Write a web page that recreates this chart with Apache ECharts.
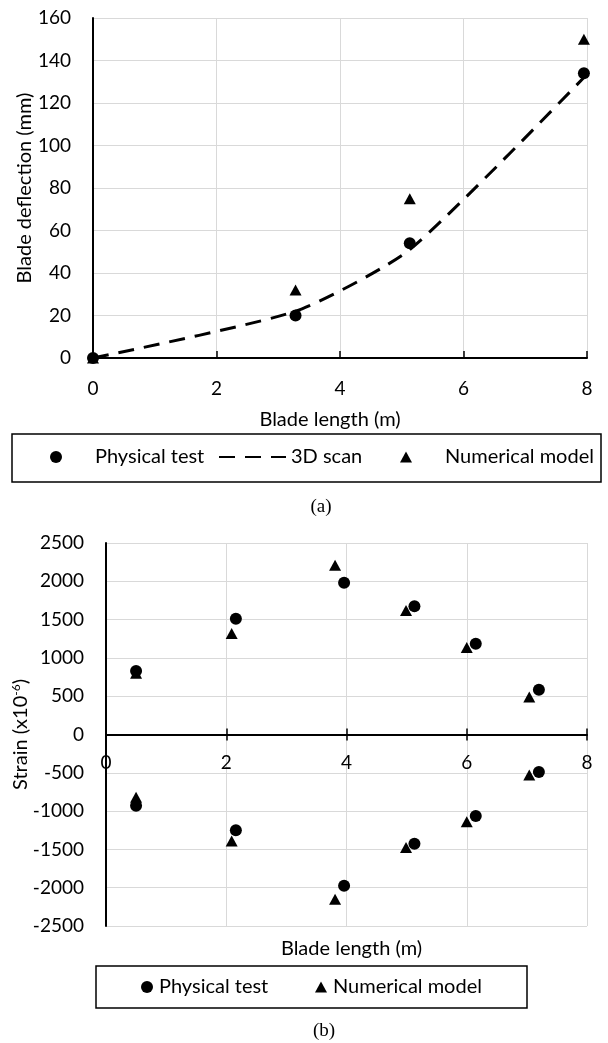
<!DOCTYPE html>
<html>
  <head>
    <meta charset="utf-8" />
    <title>Blade deflection and strain</title>
    <style type="text/css">
      html,
      body {
        width: 100%;
        height: 100%;
        margin: 0px;
        background: #fff;
      }
      #chart {
        width: 608px;
        height: 1043px;
      }
    </style>
    <script type="text/javascript" src="https://cdn.jsdelivr.net/npm/echarts@6/dist/echarts.min.js"></script>
  </head>
  <body>
    <div id="chart"></div>
    <script>
      // (a) deflection along the blade
      const lengthA = [0, 3.28, 5.13, 7.95];
      const physicalA = [0, 20, 54, 134];
      const scanA = [0, 22, 51, 132];
      const numericalA = [0, 32, 75, 150];

      // (b) strain along the blade, tension side and compression side
      const physX = [0.5, 2.16, 3.96, 5.13, 6.15, 7.2];
      const physTension = [830, 1510, 1980, 1675, 1185, 585];
      const physCompression = [-930, -1250, -1975, -1425, -1065, -490];
      const numX = [0.5, 2.09, 3.81, 4.99, 6.0, 7.04];
      const numTension = [800, 1320, 2210, 1620, 1135, 490];
      const numCompression = [-820, -1390, -2150, -1475, -1140, -530];

      const FONT = "Lato";
      const zip = (xs, ys) => xs.map((x, i) => [x, ys[i]]);
      const txt = { color: "#000", fontFamily: FONT, fontSize: 20 };
      const tickTxt = { color: "#000", fontFamily: FONT, fontSize: 19 };
      const grid = { color: "#d9d9d9", width: 1 };
      const plain = (v) => String(v);
      const triIcon = "path://M0,11L6,0L12,11Z";

      // bottom plot: 383px high, zero line in the middle
      const zeroOffset = -191.5;

      // one legend entry, placed by hand (Excel spaces them unevenly)
      function legendItem(name, icon, left, top, width, textPad) {
        return {
          data: [icon ? { name: name, icon: icon } : { name: name, itemStyle: { opacity: 0 } }],
          left: left,
          top: top,
          padding: 0,
          itemWidth: width,
          itemHeight: 12,
          symbolKeepAspect: true,
          selectedMode: false,
          textStyle: Object.assign({ lineHeight: 22, padding: [0, 0, 0, textPad] }, txt)
        };
      }

      const chart = echarts.init(document.getElementById("chart"), null, { renderer: "canvas" });

      const option = {
        animation: false,
        textStyle: { fontFamily: FONT },
        grid: [
          { left: 93, top: 18, width: 494, height: 340, outerBoundsMode: "none", containLabel: false },
          { left: 106, top: 543, width: 481, height: 383, outerBoundsMode: "none", containLabel: false }
        ],
        legend: [
          legendItem("Physical test", "circle", 50, 446, 12, 28),
          legendItem("3D scan", null, 218, 446, 67, 0),
          legendItem("Numerical model", triIcon, 400, 446, 12, 28),
          legendItem("Physical test", "circle", 141, 976, 12, 1),
          legendItem("Numerical model", triIcon, 315, 976, 12, 1)
        ],
        xAxis: [
          {
            gridIndex: 0,
            type: "value",
            min: 0,
            max: 8,
            interval: 2,
            name: "Blade length (m)",
            nameLocation: "middle",
            nameGap: 52,
            nameMoveOverlap: false,
            nameTextStyle: Object.assign({ padding: [0, 20, 0, 0] }, txt),
            axisLine: { onZero: false, lineStyle: { color: "#000", width: 2 } },
            axisTick: { inside: true, length: 7, lineStyle: { color: "#000", width: 1.5 } },
            axisLabel: Object.assign({ margin: 21, formatter: plain }, tickTxt),
            splitLine: { lineStyle: grid }
          },
          {
            gridIndex: 1,
            type: "value",
            position: "bottom",
            offset: zeroOffset,
            min: 0,
            max: 8,
            interval: 2,
            name: "Blade length (m)",
            nameLocation: "middle",
            nameGap: 204,
            nameMoveOverlap: false,
            nameTextStyle: Object.assign({ padding: [0, 0, 0, 10] }, txt),
            axisLine: { onZero: false, lineStyle: { color: "#000", width: 2 } },
            axisTick: { length: 6, lineStyle: { color: "#000", width: 1.5 } },
            axisLabel: Object.assign({ margin: 19, formatter: plain }, tickTxt),
            splitLine: { lineStyle: grid }
          },
          {
            // same axis again, only for the upper half of the cross ticks
            gridIndex: 1,
            type: "value",
            position: "bottom",
            offset: zeroOffset,
            min: 0,
            max: 8,
            interval: 2,
            axisLine: { show: false, onZero: false },
            axisTick: { inside: true, length: 6, lineStyle: { color: "#000", width: 1.5 } },
            axisLabel: { show: false },
            splitLine: { show: false }
          }
        ],
        yAxis: [
          {
            gridIndex: 0,
            type: "value",
            min: 0,
            max: 160,
            interval: 20,
            name: "Blade deflection (mm)",
            nameLocation: "middle",
            nameGap: 58,
            nameMoveOverlap: false,
            nameTextStyle: txt,
            axisLine: { show: true, onZero: false, lineStyle: { color: "#000", width: 2 } },
            axisTick: { show: false },
            axisLabel: Object.assign({ margin: 22, formatter: plain }, tickTxt),
            splitLine: { lineStyle: grid }
          },
          {
            gridIndex: 1,
            type: "value",
            min: -2500,
            max: 2500,
            interval: 500,
            name: "Strain (x10{sup|-6})",
            nameLocation: "middle",
            nameGap: 74,
            nameMoveOverlap: false,
            nameTextStyle: Object.assign(
              {
                rich: {
                  sup: { color: "#000", fontFamily: FONT, fontSize: 12, verticalAlign: "top", lineHeight: 22 }
                }
              },
              txt
            ),
            axisLine: { show: true, onZero: false, lineStyle: { color: "#000", width: 2 } },
            axisTick: { show: false },
            axisLabel: Object.assign({ margin: 22, formatter: plain }, tickTxt),
            splitLine: { lineStyle: grid }
          }
        ],
        series: [
          {
            name: "Physical test",
            type: "scatter",
            xAxisIndex: 0,
            yAxisIndex: 0,
            symbol: "circle",
            symbolSize: 12,
            itemStyle: { color: "#000", opacity: 1 },
            data: zip(lengthA, physicalA),
            z: 3
          },
          {
            name: "3D scan",
            type: "line",
            xAxisIndex: 0,
            yAxisIndex: 0,
            smooth: 0.2,
            symbol: "none",
            lineStyle: { color: "#000", width: 3, type: [16, 10] },
            itemStyle: { color: "#000" },
            data: zip(lengthA, scanA),
            z: 2
          },
          {
            name: "Numerical model",
            type: "scatter",
            xAxisIndex: 0,
            yAxisIndex: 0,
            symbol: "triangle",
            symbolSize: [12, 11],
            itemStyle: { color: "#000", opacity: 1 },
            data: zip(lengthA, numericalA),
            z: 3
          },
          {
            name: "Physical test",
            type: "scatter",
            xAxisIndex: 1,
            yAxisIndex: 1,
            symbol: "circle",
            symbolSize: 12,
            itemStyle: { color: "#000", opacity: 1 },
            data: zip(physX, physTension).concat(zip(physX, physCompression))
          },
          {
            name: "Numerical model",
            type: "scatter",
            xAxisIndex: 1,
            yAxisIndex: 1,
            symbol: "triangle",
            symbolSize: [12, 11],
            itemStyle: { color: "#000", opacity: 1 },
            data: zip(numX, numTension).concat(zip(numX, numCompression))
          }
        ],
        graphic: [
          // legend frames
          {
            type: "rect",
            shape: { x: 12, y: 434, width: 589, height: 48 },
            style: { fill: "none", stroke: "#000", lineWidth: 1.5 },
            silent: true
          },
          {
            type: "rect",
            shape: { x: 96, y: 966, width: 431, height: 42 },
            style: { fill: "none", stroke: "#000", lineWidth: 1.5 },
            silent: true
          },
          {
            type: "text",
            x: 321,
            y: 507,
            style: {
              text: "(a)",
              fill: "#000",
              font: "19px 'Liberation Serif'",
              textAlign: "center",
              textVerticalAlign: "middle"
            }
          },
          {
            type: "text",
            x: 324,
            y: 1031,
            style: {
              text: "(b)",
              fill: "#000",
              font: "19px 'Liberation Serif'",
              textAlign: "center",
              textVerticalAlign: "middle"
            }
          }
        ]
      };

      chart.setOption(option);
    </script>
  </body>
</html>
